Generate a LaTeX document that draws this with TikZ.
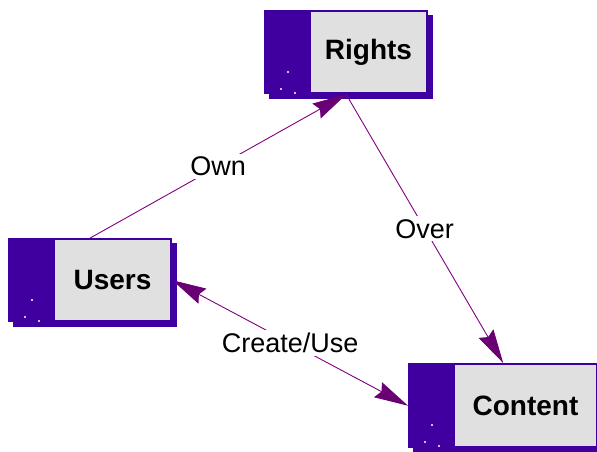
\documentclass[tikz,border=0pt]{standalone}
\usepackage{fontspec}
\setmainfont{Liberation Sans}
\usetikzlibrary{arrows.meta}
\definecolor{boxpurple}{RGB}{64,0,160}
\definecolor{panelgray}{RGB}{224,224,224}
\definecolor{linepurple}{RGB}{128,0,128}
\definecolor{headpurple}{RGB}{105,0,115}
\tikzset{
  x=1pt, y=-1pt,
  entbox/.style={draw=none, fill=boxpurple, inner sep=0pt, anchor=north west},
  enttext/.style={font=\fontsize{28}{30}\selectfont\bfseries, inner sep=0pt},
  rel/.style={draw=linepurple, line width=0.9pt},
  bighead/.tip={Stealth[length=34pt,width=17pt,inset=4pt,fill=headpurple,color=headpurple]},
  reltip/.style={-bighead},
  rellabel/.style={fill=white, inner sep=3pt, font=\fontsize{27}{29}\selectfont},
}
\newcommand{\entity}[6]{% name, x, y, w, h, text
  \fill[boxpurple] (#2+5,#3+5) rectangle ++(#4,#5);
  \node[entbox, minimum width=#4pt, minimum height=#5pt] (#1) at (#2,#3) {};
  \fill[panelgray] (#2+47,#3+2) rectangle (#2+#4-2,#3+#5-2);
  \node[enttext] (#1-t) at ({#2+(47+#4-2)/2},{#3+#5/2}) {#6};
  \fill[white] (#2+24,#3+62) circle (1.1pt) (#2+17,#3+79) circle (1.1pt) (#2+31,#3+83) circle (1.1pt);
}
\begin{document}
\begin{tikzpicture}
\useasboundingbox (0,0) rectangle (597,451);
\clip (0,0) rectangle (597,451);
\entity{rights}{264}{10}{164}{84}{Rights}
\entity{users}{8}{238}{164}{84}{Users}
\entity{content}{408}{363}{190}{85}{Content}
\draw[rel, reltip] (users.north) -- node[rellabel, midway] {Own} (rights.south);
\draw[rel, reltip] (rights.south) -- node[rellabel, midway] {Over} (content.north);
\draw[rel, bighead-bighead] (users.east) -- node[rellabel, midway] {Create/Use} (content.west);
\end{tikzpicture}
\end{document}
